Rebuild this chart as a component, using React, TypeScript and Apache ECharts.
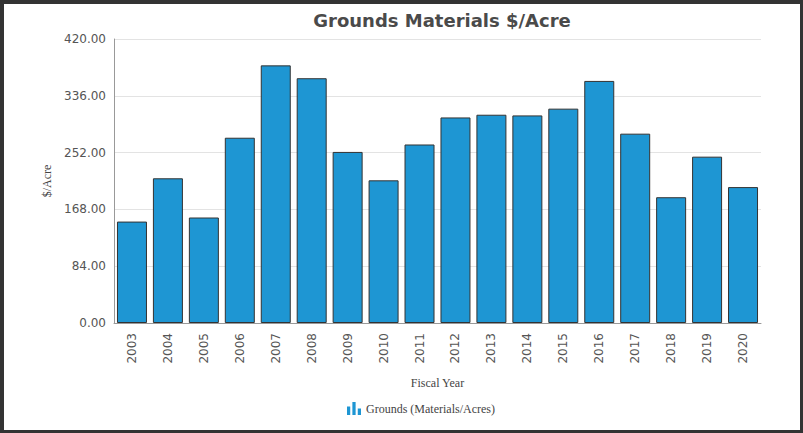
import React, { useEffect, useRef } from "react";
import * as echarts from "echarts";

const years = ["2003","2004","2005","2006","2007","2008","2009","2010","2011","2012","2013","2014","2015","2016","2017","2018","2019","2020"];
const values = [150, 214, 156, 274, 381, 362, 253, 211, 264, 304, 308, 307, 317, 358, 280, 186, 246, 201];
const seriesName = "Grounds (Materials/Acres)";
const titleText = "Grounds Materials $/Acre";

export default function App() {
  const ref = useRef<HTMLDivElement>(null);
  useEffect(() => {
    document.body.style.margin = "0";
    const chart = echarts.init(ref.current!, null, { renderer: "svg" });
    chart.setOption({
      animation: false,
      backgroundColor: "#fff",
      title: {
        text: titleText,
        left: 437,
        textAlign: "center",
        top: 6,
        textStyle: { fontFamily: "DejaVu Sans", fontWeight: "bold", fontSize: 18, color: "#4a4a4a" },
      },
      legend: {
        bottom: 13,
        left: 342,
        itemWidth: 14,
        itemHeight: 14,
        itemGap: 6,
        icon: "path://M0,6h3v8h-3z M5,2h3v12h-3z M10,8h3v6h-3z",
        textStyle: { fontFamily: "Liberation Serif", fontSize: 12, color: "#444" },
        data: [{ name: seriesName, itemStyle: { color: "#1e96d3", borderWidth: 0 } }],
      },
      grid: { left: 114, right: 42, top: 39, bottom: 110, containLabel: false },
      xAxis: {
        type: "category",
        data: years,
        name: "Fiscal Year",
        nameLocation: "middle",
        nameGap: 54,
        nameTextStyle: { fontFamily: "Liberation Serif", fontSize: 12, color: "#444" },
        axisLine: { lineStyle: { color: "#999" } },
        axisTick: { show: false },
        axisLabel: { rotate: 90, margin: 10, fontFamily: "DejaVu Sans", fontSize: 12, color: "#555" },
      },
      yAxis: {
        type: "value",
        min: 0,
        max: 420,
        interval: 84,
        name: "$/Acre",
        nameLocation: "middle",
        nameGap: 58,
        nameTextStyle: { fontFamily: "Liberation Serif", fontSize: 12, color: "#444" },
        axisLine: { show: true, lineStyle: { color: "#999" } },
        axisTick: { show: false },
        splitLine: { lineStyle: { color: "#e3e3e3" } },
        axisLabel: {
          margin: 8,
          fontFamily: "DejaVu Sans",
          fontSize: 12,
          color: "#555",
          formatter: (v: number) => v.toFixed(2),
        },
      },
      series: [
        {
          name: seriesName,
          type: "bar",
          data: values,
          barWidth: 30,
          itemStyle: { color: "#1e96d3", borderColor: "#333", borderWidth: 1 },
        },
      ],
    });
    return () => chart.dispose();
  }, []);
  return (
    <div style={{ position: "absolute", left: 0, top: 0, width: 803, height: 433 }}>
      <div ref={ref} style={{ position: "absolute", left: 0, top: 0, width: 803, height: 433 }} />
      <div
        style={{
          position: "absolute",
          left: 0,
          top: 0,
          width: 803,
          height: 433,
          boxSizing: "border-box",
          borderTop: "4px solid #333",
          borderLeft: "4px solid #333",
          borderRight: "3px solid #333",
          borderBottom: "3px solid #333",
          pointerEvents: "none",
        }}
      />
    </div>
  );
}
